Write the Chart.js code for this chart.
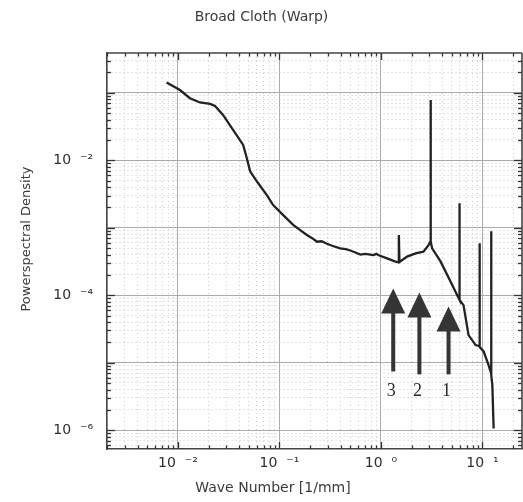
<!DOCTYPE html>
<html><head><meta charset="utf-8">
<script src="https://cdn.jsdelivr.net/npm/chart.js@4"></script>
<style>html,body{margin:0;padding:0;background:#fff}</style>
</head><body>
<canvas id="c" width="523" height="502" style="display:block"></canvas>
<script>
// ---- data ----
const waveNumber = [0.00773,0.01046,0.01312,0.01648,0.0207,0.0232,0.0278,0.0349,0.0439,0.0477,0.0514,0.0598,0.0751,0.0867,0.1089,0.1365,0.160,0.1862,0.210,0.234,0.26,0.294,0.33,0.397,0.45,0.499,0.56,0.627,0.70,0.842,0.90,0.95,1.148,1.387,1.48,1.50,1.52,1.81,2.19,2.62,2.94,3.06,3.08,3.10,3.19,3.86,4.84,5.64,5.94,5.94,5.94,6.50,7.29,8.55,9.38,9.38,9.38,10.26,11.48,12.2,12.2,12.2,12.5,12.88];
const psd = [0.142,0.110,0.0832,0.0718,0.0684,0.0639,0.0470,0.0282,0.0169,0.0107,0.00687,0.00488,0.00305,0.00217,0.00154,0.00110,0.00092,0.00078,0.00070,0.00062,0.00063,0.00058,0.00054,0.000495,0.00048,0.00046,0.00043,0.000400,0.00041,0.000394,0.00041,0.00039,0.000352,0.000314,0.00031,0.00078,0.00031,0.000373,0.000417,0.000442,0.000553,0.00062,0.0785,0.00062,0.000495,0.000317,0.000160,0.0001002,8.5e-5,0.0023,8.5e-5,7.13e-5,2.56e-5,1.82e-5,1.75e-5,5.88e-4,1.7e-5,1.465e-5,9.18e-6,6.9e-6,8.85e-4,6.5e-6,4.64e-6,1.06e-6];
const xTickLabels = {'-2':'10  \u207B\u00B2','-1':'10  \u207B\u00B9','0':'10  \u2070','1':'10  \u00B9'};
const yTickLabels = {'-2':'10  \u207B\u00B2','-4':'10  \u207B\u2074','-6':'10  \u207B\u2076'};
const arrowLabels = ['1','2','3'];
const arrowX = [4.63, 2.39, 1.32];
const arrowTipY = [6.8e-5, 1.10e-4, 1.26e-4];
const arrowTailY = [6.7e-6, 6.7e-6, 7.4e-6];
const arrowLabelY = [3.74e-6, 3.74e-6, 3.74e-6];
const titleText = 'Broad Cloth (Warp)';
const xTitle = 'Wave Number [1/mm]';
const yTitle = 'Powerspectral Density';
const xRange = [0.0020, 24.5];
const yRange = [5.25e-7, 0.389];

// ---- helpers ----
function logTicks(min, max){
  const t=[];
  const e0=Math.floor(Math.log10(min)), e1=Math.ceil(Math.log10(max));
  for(let e=e0;e<=e1;e++) for(let m=1;m<=9;m++){
    const v=m*Math.pow(10,e);
    if(v>=min && v<=max) t.push({value:v, major:m===1});
  }
  return t;
}
function decadeLabel(map){
  return (v)=>{ const l=Math.log10(v), r=Math.round(l); if(Math.abs(l-r)<1e-6 && map[String(r)]!==undefined) return map[String(r)]; return ''; };
}
const gridColor = c => (c.tick && c.tick.major) ? '#ababab' : '#cccccc';
const gridDash = c => (c.tick && !c.tick.major) ? [1,3] : [];

const deco = {
  id:'deco',
  afterDatasetsDraw(chart){
    const {ctx, chartArea:a, scales:{x,y}} = chart;
    ctx.save();
    ctx.strokeStyle='#333'; ctx.lineWidth=1.3;
    const ln=(x1,y1,x2,y2)=>{ctx.beginPath();ctx.moveTo(x1,y1);ctx.lineTo(x2,y2);ctx.stroke();};
    x.ticks.forEach(t=>{const p=Math.round(x.getPixelForValue(t.value))+0.5; const L=t.major?7:3.5; ln(p,a.bottom,p,a.bottom-L); ln(p,a.top,p,a.top+L);});
    y.ticks.forEach(t=>{const p=Math.round(y.getPixelForValue(t.value))+0.5; const L=t.major?8:4; ln(a.left,p,a.left+L,p); ln(a.right,p,a.right-L,p);});
    ctx.strokeStyle='#444'; ctx.lineWidth=1.6;
    ln(a.left,a.top,a.right,a.top); ln(a.right,a.top,a.right,a.bottom);
    // arrows
    arrowX.forEach((xv,i)=>{
      const px=x.getPixelForValue(xv), tip=y.getPixelForValue(arrowTipY[i]), tail=y.getPixelForValue(arrowTailY[i]);
      const hh=25, hw=12;
      ctx.fillStyle='#353535';
      ctx.fillRect(px-2, tip+hh-1, 4, tail-(tip+hh-1));
      ctx.beginPath(); ctx.moveTo(px,tip); ctx.lineTo(px-hw,tip+hh); ctx.lineTo(px+hw,tip+hh); ctx.closePath(); ctx.fill();
      ctx.font='18px "Liberation Serif", "DejaVu Serif", serif'; ctx.textAlign='center'; ctx.textBaseline='middle';
      ctx.fillStyle='#2a2a2a';
      ctx.fillText(arrowLabels[i], px-2, y.getPixelForValue(arrowLabelY[i]));
    });
    // titles
    ctx.fillStyle='#3a3a3a'; ctx.textAlign='center'; ctx.textBaseline='middle';
    ctx.font='14px "DejaVu Sans", sans-serif';
    ctx.fillText(titleText, chart.width/2, 17);
    ctx.fillText(xTitle, a.left+(a.right-a.left)*0.40, 488);
    ctx.save();
    ctx.translate(27, (a.top+a.bottom)/2-12); ctx.rotate(-Math.PI/2);
    ctx.font='13px "DejaVu Sans", sans-serif';
    ctx.fillText(yTitle, 0, 0);
    ctx.restore();
    ctx.restore();
  }
};

const points = waveNumber.map((v,i)=>({x:v, y:psd[i]}));

new Chart(document.getElementById('c'), {
  type:'scatter',
  data:{datasets:[{data:points, showLine:true, borderColor:'#222', borderWidth:2.3, pointRadius:0, tension:0, fill:false}]},
  options:{
    responsive:false, animation:false,
    layout:{padding:{top:53,right:1,left:0,bottom:0}},
    plugins:{legend:{display:false}, tooltip:{enabled:false}, title:{display:false}},
    scales:{
      x:{type:'logarithmic', min:xRange[0], max:xRange[1],
        afterBuildTicks:s=>{s.ticks=logTicks(xRange[0],xRange[1]);},
        afterFit:s=>{s.height=53;},
        grid:{color:gridColor, lineWidth:1, drawTicks:false},
        border:{color:'#444', width:1.6, dash:gridDash},
        ticks:{autoSkip:false, maxRotation:0, padding:6, color:'#2e2e2e', font:{family:'"DejaVu Sans", sans-serif', size:14}, callback:decadeLabel(xTickLabels)}
      },
      y:{type:'logarithmic', min:yRange[0], max:yRange[1],
        afterBuildTicks:s=>{s.ticks=logTicks(yRange[0],yRange[1]);},
        afterFit:s=>{s.width=107;},
        grid:{color:gridColor, lineWidth:1, drawTicks:false},
        border:{color:'#444', width:1.6, dash:gridDash},
        ticks:{autoSkip:false, padding:14, color:'#2e2e2e', font:{family:'"DejaVu Sans", sans-serif', size:14}, callback:decadeLabel(yTickLabels)}
      }
    }
  },
  plugins:[deco]
});
</script>
</body></html>
